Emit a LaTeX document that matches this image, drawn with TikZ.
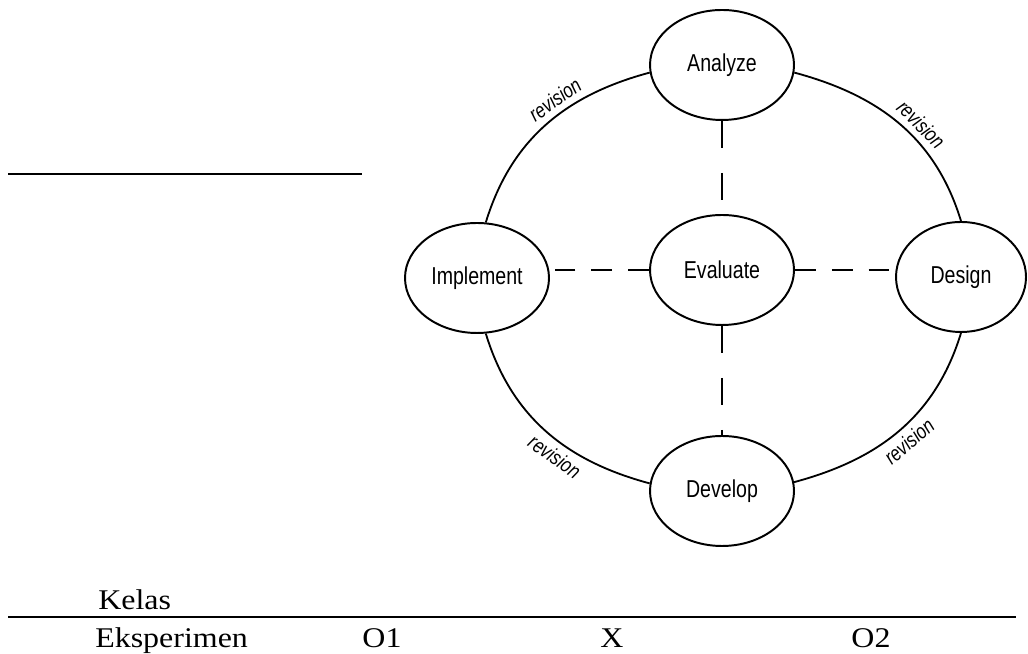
\documentclass[tikz,border=0pt]{standalone}
\usepackage{fontspec}
\usepackage{tikz}
\usetikzlibrary{shapes.geometric}

\setmainfont{Liberation Serif}[FakeStretch=1.12]
\newfontfamily\phasefont{Liberation Sans}[FakeStretch=0.8]

\begin{document}
\begin{tikzpicture}[
  phase/.style={draw, ellipse, line width=1.4pt, inner sep=0pt,
    minimum width=3.6cm, minimum height=2.75cm,
    font=\phasefont\fontsize{17.4}{20}\selectfont},
  rev/.style={sloped, inner sep=4pt, font=\phasefont\itshape\fontsize{15}{17}\selectfont},
  cycle/.style={line width=1.3pt},
  hdash/.style={line width=1.5pt, dash pattern=on 0.52cm off 0.4cm},
  vdash/.style={line width=1.5pt, dash pattern=on 0.68cm off 0.62cm},
  row/.style={inner sep=0pt, font=\fontsize{20.3}{22}\selectfont}
]
\useasboundingbox (0,0) rectangle (25.7,16.35);

% the five phases
\node[phase] (an) at (18.05,14.725) {Analyze};
\node[phase] (ev) at (18.05,9.6) {Evaluate};
\node[phase] (im) at (11.925,9.4) {Implement};
\node[phase, minimum width=3.25cm] (de) at (24.025,9.425) {Design};
\node[phase] (dv) at (18.05,4.075) {Develop};

% outer ring
\draw[cycle] (an.186) to[out=195,in=73] node[rev,above,pos=0.4] {revision} (im.81);
\draw[cycle] (an.-6) to[out=-15,in=107] node[rev,above,pos=0.57] {revision} (de.north);
\draw[cycle] (im.-81) to[out=-73,in=165] node[rev,below,pos=0.6] {revision} (dv.174);
\draw[cycle] (dv.7) to[out=15,in=-107] node[rev,below,pos=0.5] {revision} (de.south);

% evaluation links
\draw[vdash] (an) -- (ev);
\draw[vdash] (ev) -- (dv);
\draw[hdash] (ev.west) -- (ev.west -| im.east);
\draw[hdash] (ev.east) -- (ev.east -| de.west);

% design table
\draw[line width=1.4pt] (0.2,12) -- (9.05,12);
\draw[line width=1.3pt] (0.2,0.925) -- (25.4,0.925);
\node[row, anchor=base west] (kelas) at (2.45,1.1) {Kelas};
\node[row, anchor=base west] (eks) at (2.375,0.17) {Eksperimen};
\node[row, anchor=base] (o1) at (9.55,0.17) {O1};
\node[row, anchor=base] (x) at (15.3,0.17) {X};
\node[row, anchor=base] (o2) at (21.775,0.17) {O2};
\end{tikzpicture}
\end{document}
